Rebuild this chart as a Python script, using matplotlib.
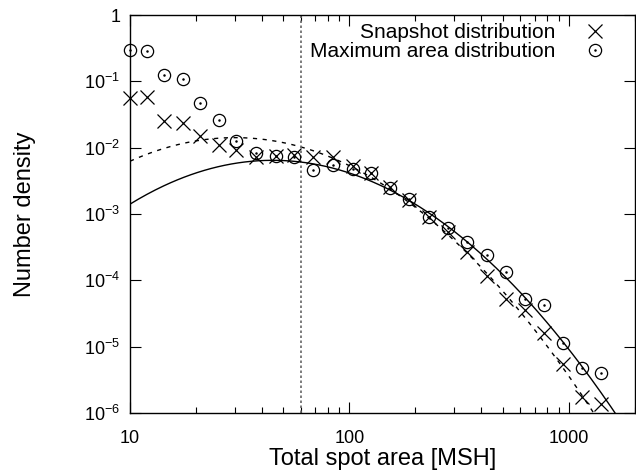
import numpy as np
import matplotlib
matplotlib.use("Agg")
import matplotlib.pyplot as plt
from matplotlib.ticker import FixedLocator, FuncFormatter, NullLocator, LogLocator
from matplotlib.legend_handler import HandlerTuple

plt.rcParams['font.family'] = ['Liberation Sans', 'DejaVu Sans']
plt.rcParams['mathtext.fontset'] = 'custom'
plt.rcParams['mathtext.rm'] = 'Liberation Sans'
plt.rcParams['mathtext.it'] = 'Liberation Sans:italic'
plt.rcParams['mathtext.bf'] = 'Liberation Sans:bold'

# bin centres [MSH]
area = [10.0, 12.0, 14.3, 17.4, 20.9, 25.4, 30.5, 37.7, 46.5, 56.2, 68.1, 84.0,
        103.5, 125.6, 153.5, 187.5, 231, 282, 345, 423, 516, 631, 769, 942,
        1148, 1406]

snapshot = [0.0554, 0.0574, 0.0252, 0.0232, 0.0150, 0.0109, 0.0092, 0.00713,
            0.00755, 0.00773, 0.0073, 0.0073, 0.00527, 0.0041, 0.00257, 0.00162,
            0.00089, 0.00054, 0.000269, 0.000116, 5.15e-5, 3.56e-5, 1.62e-5,
            5.57e-6, 1.75e-6, 1.39e-6]

maxarea = [0.296, 0.29, 0.124, 0.107, 0.0466, 0.026, 0.0125, 0.0082, 0.00755,
           0.00713, 0.0046, 0.00547, 0.0047, 0.0042, 0.00243, 0.00166, 0.00089,
           0.00062, 0.00038, 0.000245, 0.000134, 5.15e-5, 4.2e-5, 1.14e-5,
           4.7e-6, 3.95e-6]

# lognormal fits: (peak area, peak density, curvature in log10-log10)
snap_fit = (30.1, 0.0142, 1.552)
max_fit = (44.7, 0.00646, 1.5625)

cutoff = 60  # lower area limit used for the fits


def lognormal(x, peak, dens, k):
    return dens * 10 ** (-k * (np.log10(x) - np.log10(peak)) ** 2)


fig = plt.figure(figsize=(6.36, 4.72), dpi=100)
ax = fig.add_axes([0.2044, 0.125, 0.7935, 0.843])

xs = np.logspace(1, np.log10(2000), 300)
ax.plot(xs, lognormal(xs, *max_fit), color='black', lw=1.0)
ax.plot(xs, lognormal(xs, *snap_fit), color='black', lw=1.0, ls=(0, (3, 4)))
ax.axvline(cutoff, color='#666666', lw=1.2, ls=(0, (1.5, 1.5)))

h_snap, = ax.plot(area, snapshot, ls='none', marker='x', ms=9.5, mew=0.9,
                  color='black', clip_on=False)
h_max, = ax.plot(area, maxarea, ls='none', marker='o', ms=8.8, mew=0.9,
                 mfc='none', mec='black', clip_on=False)
h_dot, = ax.plot(area, maxarea, ls='none', marker='.', ms=1.6,
                 color='black', clip_on=False)

ax.set_xscale('log')
ax.set_yscale('log')
ax.set_xlim(10, 2000)
ax.set_ylim(1e-6, 1)

ax.xaxis.set_major_locator(FixedLocator([10, 100, 1000]))
ax.xaxis.set_minor_locator(LogLocator(base=10, subs=np.arange(2, 10)))
ax.xaxis.set_major_formatter(FuncFormatter(lambda v, p: '%d' % v))
ax.xaxis.set_minor_formatter(FuncFormatter(lambda v, p: ''))
ax.yaxis.set_major_locator(FixedLocator([1e-6, 1e-5, 1e-4, 1e-3, 1e-2, 1e-1, 1]))
ax.yaxis.set_minor_locator(NullLocator())
ax.yaxis.set_major_formatter(FuncFormatter(
    lambda v, p: '1' if v == 1 else r'$\mathregular{10^{%d}}$' % round(np.log10(v))))

ax.tick_params(which='both', direction='in', top=True, right=True,
               labelsize=13, width=0.8)
ax.tick_params(which='major', length=8)
ax.tick_params(which='minor', length=4)
ax.tick_params(axis='x', pad=12)
ax.tick_params(axis='y', pad=7)
for s in ax.spines.values():
    s.set_linewidth(1.0)

ax.set_xlabel('Total spot area [MSH]', fontsize=17, labelpad=1)
ax.set_ylabel('Number density', fontsize=17, labelpad=35)

# circle and centre dot share one legend slot
ax.legend([h_snap, (h_max, h_dot)],
          ['Snapshot distribution', 'Maximum area distribution'],
          handler_map={tuple: HandlerTuple(ndivide=1, pad=0)},
          loc='upper right', bbox_to_anchor=(0.959, 1.0), frameon=False,
          markerfirst=False, fontsize=15, handlelength=1.0,
          handletextpad=1.4, labelspacing=0.0, borderaxespad=0.0)

fig.savefig('out.png', dpi=100)
